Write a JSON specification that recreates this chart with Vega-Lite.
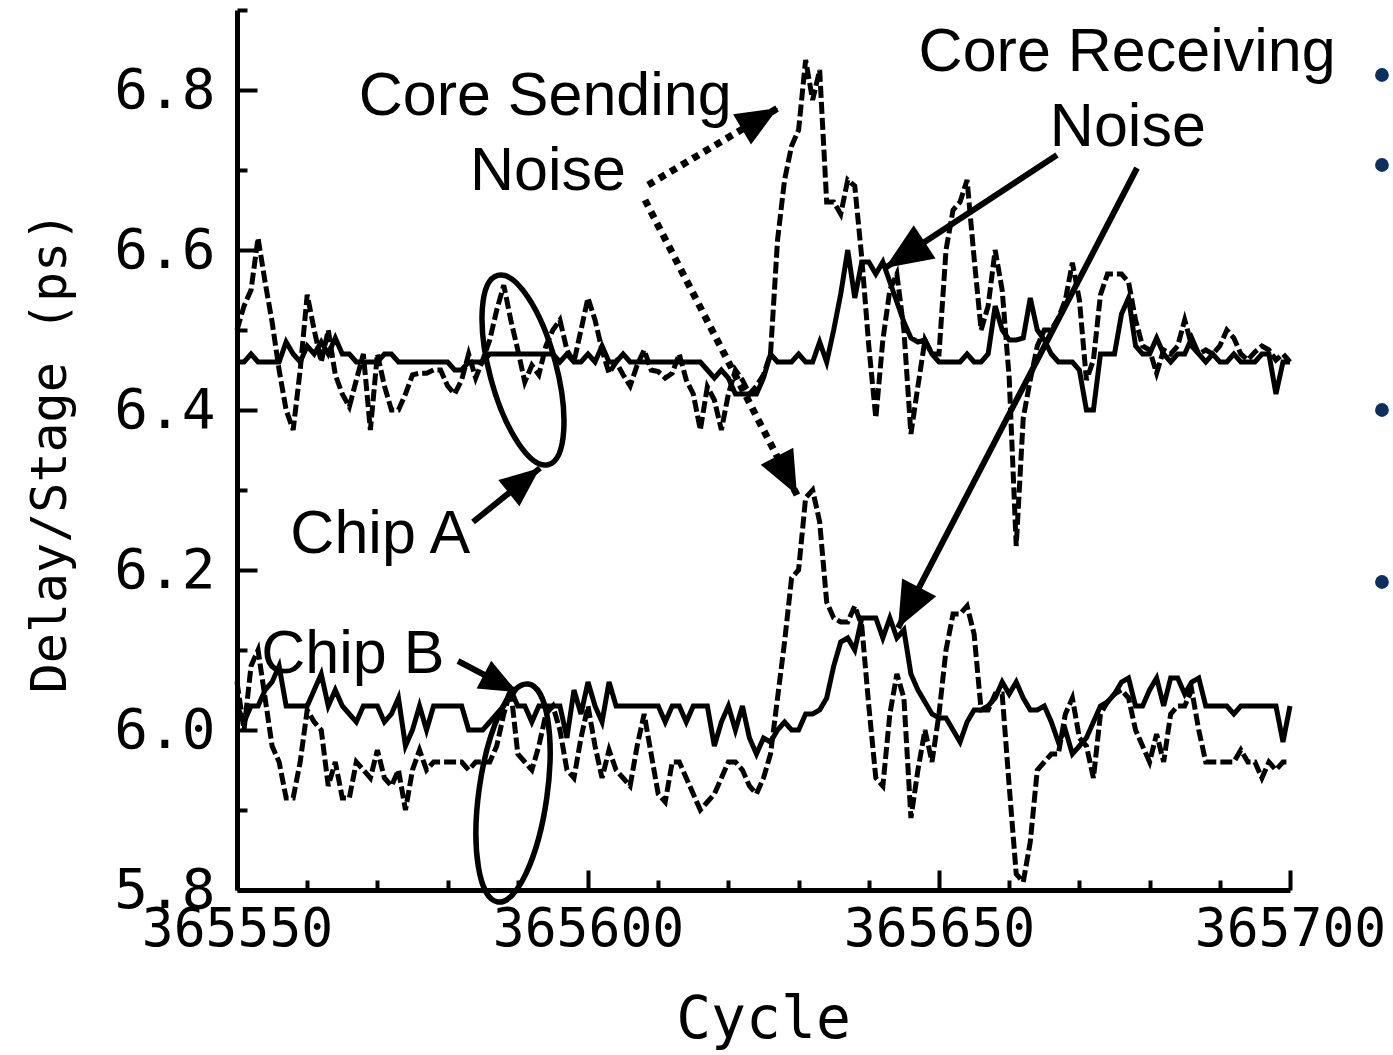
{
  "$schema": "https://vega.github.io/schema/vega-lite/v6.json",
  "width": 1053,
  "height": 880,
  "autosize": {"type": "none"},
  "padding": {"left": 237, "top": 10, "right": 103, "bottom": 165},
  "background": "white",
  "config": {"view": {"stroke": null}},
  "resolve": {"axis": {"x": "independent", "y": "independent"}},
  "datasets": {
    "trace": [
      {"c":365550,"sa":6.46,"da":6.50,"sb":6.03,"db":6.06},
      {"c":365551,"sa":6.46,"da":6.53,"sb":6.01,"db":6.00},
      {"c":365552,"sa":6.47,"da":6.55,"sb":6.03,"db":6.08},
      {"c":365553,"sa":6.46,"da":6.615,"sb":6.03,"db":6.10},
      {"c":365554,"sa":6.46,"da":6.56,"sb":6.05,"db":6.04},
      {"c":365555,"sa":6.46,"da":6.51,"sb":6.06,"db":5.98},
      {"c":365556,"sa":6.46,"da":6.45,"sb":6.08,"db":5.96},
      {"c":365557,"sa":6.485,"da":6.40,"sb":6.03,"db":5.915},
      {"c":365558,"sa":6.47,"da":6.375,"sb":6.03,"db":5.915},
      {"c":365559,"sa":6.46,"da":6.45,"sb":6.03,"db":5.96},
      {"c":365560,"sa":6.48,"da":6.544,"sb":6.03,"db":6.025},
      {"c":365561,"sa":6.47,"da":6.50,"sb":6.05,"db":6.01},
      {"c":365562,"sa":6.485,"da":6.46,"sb":6.07,"db":6.00},
      {"c":365563,"sa":6.47,"da":6.50,"sb":6.03,"db":5.93},
      {"c":365564,"sa":6.49,"da":6.444,"sb":6.05,"db":5.96},
      {"c":365565,"sa":6.47,"da":6.42,"sb":6.03,"db":5.915},
      {"c":365566,"sa":6.47,"da":6.404,"sb":6.02,"db":5.915},
      {"c":365567,"sa":6.46,"da":6.4375,"sb":6.01,"db":5.96},
      {"c":365568,"sa":6.46,"da":6.47,"sb":6.03,"db":5.95},
      {"c":365569,"sa":6.46,"da":6.375,"sb":6.03,"db":5.94},
      {"c":365570,"sa":6.46,"da":6.47,"sb":6.03,"db":5.975},
      {"c":365571,"sa":6.47,"da":6.43,"sb":6.01,"db":5.94},
      {"c":365572,"sa":6.47,"da":6.40,"sb":6.02,"db":5.93},
      {"c":365573,"sa":6.46,"da":6.40,"sb":6.04,"db":5.95},
      {"c":365574,"sa":6.46,"da":6.42,"sb":5.98,"db":5.90},
      {"c":365575,"sa":6.46,"da":6.444,"sb":6.00,"db":5.95},
      {"c":365576,"sa":6.46,"da":6.446,"sb":6.03,"db":5.975},
      {"c":365577,"sa":6.46,"da":6.446,"sb":6.00,"db":5.95},
      {"c":365578,"sa":6.46,"da":6.45,"sb":6.03,"db":5.96},
      {"c":365579,"sa":6.46,"da":6.45,"sb":6.03,"db":5.96},
      {"c":365580,"sa":6.46,"da":6.43,"sb":6.03,"db":5.96},
      {"c":365581,"sa":6.45,"da":6.42,"sb":6.03,"db":5.96},
      {"c":365582,"sa":6.45,"da":6.4375,"sb":6.03,"db":5.96},
      {"c":365583,"sa":6.46,"da":6.47,"sb":6.00,"db":5.95},
      {"c":365584,"sa":6.46,"da":6.44,"sb":6.00,"db":5.96},
      {"c":365585,"sa":6.46,"da":6.4625,"sb":6.00,"db":5.96},
      {"c":365586,"sa":6.47,"da":6.4875,"sb":6.01,"db":5.96},
      {"c":365587,"sa":6.47,"da":6.525,"sb":6.02,"db":5.98},
      {"c":365588,"sa":6.47,"da":6.556,"sb":6.03,"db":6.02},
      {"c":365589,"sa":6.47,"da":6.5125,"sb":6.05,"db":6.05},
      {"c":365590,"sa":6.47,"da":6.475,"sb":6.03,"db":5.97},
      {"c":365591,"sa":6.47,"da":6.435,"sb":6.03,"db":5.96},
      {"c":365592,"sa":6.47,"da":6.456,"sb":6.01,"db":5.95},
      {"c":365593,"sa":6.47,"da":6.444,"sb":6.03,"db":5.98},
      {"c":365594,"sa":6.47,"da":6.48,"sb":6.03,"db":6.02},
      {"c":365595,"sa":6.47,"da":6.50,"sb":6.03,"db":6.03},
      {"c":365596,"sa":6.46,"da":6.5125,"sb":6.03,"db":6.00},
      {"c":365597,"sa":6.47,"da":6.475,"sb":5.99,"db":5.95},
      {"c":365598,"sa":6.46,"da":6.46,"sb":6.05,"db":5.94},
      {"c":365599,"sa":6.46,"da":6.50,"sb":6.02,"db":5.99},
      {"c":365600,"sa":6.47,"da":6.54,"sb":6.06,"db":6.03},
      {"c":365601,"sa":6.46,"da":6.5125,"sb":6.03,"db":5.98},
      {"c":365602,"sa":6.48,"da":6.475,"sb":6.01,"db":5.94},
      {"c":365603,"sa":6.46,"da":6.446,"sb":6.06,"db":5.975},
      {"c":365604,"sa":6.46,"da":6.46,"sb":6.03,"db":5.95},
      {"c":365605,"sa":6.47,"da":6.444,"sb":6.03,"db":5.94},
      {"c":365606,"sa":6.46,"da":6.43,"sb":6.03,"db":5.93},
      {"c":365607,"sa":6.46,"da":6.456,"sb":6.03,"db":5.98},
      {"c":365608,"sa":6.46,"da":6.475,"sb":6.03,"db":6.02},
      {"c":365609,"sa":6.46,"da":6.45,"sb":6.03,"db":5.97},
      {"c":365610,"sa":6.46,"da":6.448,"sb":6.03,"db":5.92},
      {"c":365611,"sa":6.46,"da":6.44,"sb":6.01,"db":5.91},
      {"c":365612,"sa":6.46,"da":6.446,"sb":6.03,"db":5.96},
      {"c":365613,"sa":6.46,"da":6.47,"sb":6.03,"db":5.96},
      {"c":365614,"sa":6.46,"da":6.4375,"sb":6.01,"db":5.94},
      {"c":365615,"sa":6.46,"da":6.42,"sb":6.03,"db":5.92},
      {"c":365616,"sa":6.46,"da":6.375,"sb":6.03,"db":5.90},
      {"c":365617,"sa":6.45,"da":6.429,"sb":6.03,"db":5.91},
      {"c":365618,"sa":6.44,"da":6.4125,"sb":5.98,"db":5.92},
      {"c":365619,"sa":6.45,"da":6.375,"sb":6.01,"db":5.94},
      {"c":365620,"sa":6.44,"da":6.42,"sb":6.03,"db":5.96},
      {"c":365621,"sa":6.42,"da":6.45,"sb":6.00,"db":5.96},
      {"c":365622,"sa":6.42,"da":6.4375,"sb":6.03,"db":5.95},
      {"c":365623,"sa":6.42,"da":6.42,"sb":5.99,"db":5.93},
      {"c":365624,"sa":6.42,"da":6.43,"sb":5.97,"db":5.92},
      {"c":365625,"sa":6.44,"da":6.444,"sb":5.99,"db":5.94},
      {"c":365626,"sa":6.47,"da":6.47,"sb":5.985,"db":5.97},
      {"c":365627,"sa":6.46,"da":6.6125,"sb":6.00,"db":6.04},
      {"c":365628,"sa":6.46,"da":6.6875,"sb":6.01,"db":6.11},
      {"c":365629,"sa":6.46,"da":6.73,"sb":6.00,"db":6.19},
      {"c":365630,"sa":6.47,"da":6.75,"sb":6.00,"db":6.20},
      {"c":365631,"sa":6.46,"da":6.8375,"sb":6.02,"db":6.29},
      {"c":365632,"sa":6.46,"da":6.7875,"sb":6.02,"db":6.30},
      {"c":365633,"sa":6.485,"da":6.825,"sb":6.025,"db":6.26},
      {"c":365634,"sa":6.46,"da":6.66,"sb":6.04,"db":6.16},
      {"c":365635,"sa":6.50,"da":6.66,"sb":6.08,"db":6.14},
      {"c":365636,"sa":6.545,"da":6.645,"sb":6.11,"db":6.135},
      {"c":365637,"sa":6.60,"da":6.6875,"sb":6.115,"db":6.135},
      {"c":365638,"sa":6.54,"da":6.68,"sb":6.10,"db":6.155},
      {"c":365639,"sa":6.585,"da":6.59,"sb":6.14,"db":6.13},
      {"c":365640,"sa":6.585,"da":6.48,"sb":6.14,"db":6.03},
      {"c":365641,"sa":6.57,"da":6.39,"sb":6.14,"db":5.94},
      {"c":365642,"sa":6.585,"da":6.4875,"sb":6.115,"db":5.93},
      {"c":365643,"sa":6.56,"da":6.55,"sb":6.14,"db":6.02},
      {"c":365644,"sa":6.535,"da":6.57,"sb":6.115,"db":6.07},
      {"c":365645,"sa":6.51,"da":6.50,"sb":6.125,"db":6.04},
      {"c":365646,"sa":6.49,"da":6.37,"sb":6.07,"db":5.89},
      {"c":365647,"sa":6.485,"da":6.43,"sb":6.05,"db":5.95},
      {"c":365648,"sa":6.4875,"da":6.4875,"sb":6.035,"db":6.00},
      {"c":365649,"sa":6.47,"da":6.47,"sb":6.02,"db":5.96},
      {"c":365650,"sa":6.46,"da":6.47,"sb":6.015,"db":6.02},
      {"c":365651,"sa":6.46,"da":6.60,"sb":6.015,"db":6.10},
      {"c":365652,"sa":6.46,"da":6.65,"sb":6.00,"db":6.145},
      {"c":365653,"sa":6.46,"da":6.66,"sb":5.985,"db":6.145},
      {"c":365654,"sa":6.47,"da":6.6875,"sb":6.01,"db":6.155},
      {"c":365655,"sa":6.46,"da":6.59,"sb":6.025,"db":6.12},
      {"c":365656,"sa":6.46,"da":6.50,"sb":6.025,"db":6.025},
      {"c":365657,"sa":6.47,"da":6.53,"sb":6.03,"db":6.025},
      {"c":365658,"sa":6.53,"da":6.60,"sb":6.04,"db":6.045},
      {"c":365659,"sa":6.50,"da":6.55,"sb":6.06,"db":6.045},
      {"c":365660,"sa":6.4875,"da":6.44,"sb":6.045,"db":5.93},
      {"c":365661,"sa":6.4875,"da":6.23,"sb":6.06,"db":5.82},
      {"c":365662,"sa":6.49,"da":6.39,"sb":6.04,"db":5.81},
      {"c":365663,"sa":6.54,"da":6.4375,"sb":6.025,"db":5.86},
      {"c":365664,"sa":6.50,"da":6.48,"sb":6.025,"db":5.95},
      {"c":365665,"sa":6.4875,"da":6.50,"sb":6.03,"db":5.96},
      {"c":365666,"sa":6.47,"da":6.50,"sb":6.01,"db":5.97},
      {"c":365667,"sa":6.46,"da":6.515,"sb":5.985,"db":5.97},
      {"c":365668,"sa":6.46,"da":6.5375,"sb":6.00,"db":6.02},
      {"c":365669,"sa":6.46,"da":6.584,"sb":5.97,"db":6.04},
      {"c":365670,"sa":6.45,"da":6.5375,"sb":5.98,"db":5.99},
      {"c":365671,"sa":6.40,"da":6.4375,"sb":5.99,"db":5.98},
      {"c":365672,"sa":6.40,"da":6.4625,"sb":6.01,"db":5.94},
      {"c":365673,"sa":6.47,"da":6.544,"sb":6.03,"db":6.02},
      {"c":365674,"sa":6.47,"da":6.57,"sb":6.035,"db":6.035},
      {"c":365675,"sa":6.47,"da":6.57,"sb":6.045,"db":6.045},
      {"c":365676,"sa":6.52,"da":6.57,"sb":6.06,"db":6.05},
      {"c":365677,"sa":6.54,"da":6.56,"sb":6.065,"db":6.04},
      {"c":365678,"sa":6.48,"da":6.5125,"sb":6.03,"db":6.00},
      {"c":365679,"sa":6.47,"da":6.48,"sb":6.03,"db":5.98},
      {"c":365680,"sa":6.47,"da":6.475,"sb":6.05,"db":5.96},
      {"c":365681,"sa":6.49,"da":6.446,"sb":6.065,"db":5.995},
      {"c":365682,"sa":6.47,"da":6.475,"sb":6.03,"db":5.96},
      {"c":365683,"sa":6.46,"da":6.47,"sb":6.065,"db":6.02},
      {"c":365684,"sa":6.47,"da":6.48,"sb":6.065,"db":6.03},
      {"c":365685,"sa":6.47,"da":6.5125,"sb":6.045,"db":6.03},
      {"c":365686,"sa":6.49,"da":6.48,"sb":6.06,"db":6.05},
      {"c":365687,"sa":6.47,"da":6.47,"sb":6.065,"db":6.00},
      {"c":365688,"sa":6.46,"da":6.475,"sb":6.03,"db":5.96},
      {"c":365689,"sa":6.47,"da":6.47,"sb":6.03,"db":5.96},
      {"c":365690,"sa":6.46,"da":6.48,"sb":6.03,"db":5.96},
      {"c":365691,"sa":6.46,"da":6.50,"sb":6.03,"db":5.96},
      {"c":365692,"sa":6.47,"da":6.49,"sb":6.02,"db":5.96},
      {"c":365693,"sa":6.46,"da":6.47,"sb":6.03,"db":5.975},
      {"c":365694,"sa":6.46,"da":6.4625,"sb":6.03,"db":5.96},
      {"c":365695,"sa":6.46,"da":6.4725,"sb":6.03,"db":5.96},
      {"c":365696,"sa":6.47,"da":6.48,"sb":6.03,"db":5.94},
      {"c":365697,"sa":6.47,"da":6.475,"sb":6.03,"db":5.96},
      {"c":365698,"sa":6.42,"da":6.4625,"sb":6.03,"db":5.95},
      {"c":365699,"sa":6.46,"da":6.47,"sb":5.985,"db":5.96},
      {"c":365700,"sa":6.46,"da":6.46,"sb":6.03,"db":5.96}
    ],
    "notes": [
      {"label": "Core Sending", "c": 365593.9, "v": 6.791},
      {"label": "Noise", "c": 365594.3, "v": 6.6975},
      {"label": "Core Receiving", "c": 365676.8, "v": 6.846},
      {"label": "Noise", "c": 365676.9, "v": 6.7525},
      {"label": "Chip A", "c": 365570.4, "v": 6.244},
      {"label": "Chip B", "c": 365566.5, "v": 6.094}
    ],
    "dottedArrows": [
      {"c": 365608.55, "v": 6.68125, "c2": 365627.07, "v2": 6.7775},
      {"c": 365608.12, "v": 6.6625, "c2": 365629.77, "v2": 6.29375}
    ],
    "solidArrows": [
      {"c": 365666.81, "v": 6.71875, "c2": 365642.31, "v2": 6.5775},
      {"c": 365678.21, "v": 6.7025, "c2": 365644.16, "v2": 6.1275},
      {"c": 365583.62, "v": 6.26, "c2": 365593.16, "v2": 6.3275},
      {"c": 365581.48, "v": 6.08625, "c2": 365589.89, "v2": 6.0475}
    ],
    "bullets": [
      {"c": 365713.1, "v": 6.81875},
      {"c": 365713.1, "v": 6.70625},
      {"c": 365713.1, "v": 6.4},
      {"c": 365713.1, "v": 6.185}
    ]
  },
  "layer": [
    {
      "data": {"name": "trace"},
      "mark": {"type": "line", "color": "black", "strokeWidth": 5},
      "encoding": {
        "x": {"field": "c", "type": "quantitative",
          "scale": {"domain": [365550, 365700], "nice": false, "zero": false},
          "axis": {"orient": "bottom", "values": [365550, 365600, 365650, 365700], "format": "d",
            "tickSize": -20, "tickWidth": 4, "tickColor": "black",
            "domainWidth": 5, "domainColor": "black", "grid": false,
            "labelFont": "DejaVu Sans Mono", "labelFontSize": 53, "labelColor": "black",
            "labelPadding": 33, "labelFlush": false, "labelOverlap": false, "labelLimit": 0,
            "title": "Cycle", "titleFont": "DejaVu Sans Mono", "titleFontSize": 58,
            "titleFontWeight": "normal", "titleColor": "black",
            "titleX": 526, "titleY": 130, "titleAlign": "center", "titleBaseline": "middle"}},
        "y": {"field": "sa", "type": "quantitative",
          "scale": {"domain": [5.8, 6.9], "nice": false, "zero": false},
          "axis": {"orient": "left", "values": [5.8, 6.0, 6.2, 6.4, 6.6, 6.8], "format": ".1f",
            "tickSize": -20, "tickWidth": 4, "tickColor": "black",
            "domainWidth": 5, "domainColor": "black", "grid": false,
            "labelFont": "DejaVu Sans Mono", "labelFontSize": 56, "labelColor": "black",
            "labelPadding": 42, "labelFlush": false, "labelOverlap": false, "labelLimit": 0,
            "title": "Delay/Stage (ps)", "titleFont": "DejaVu Sans Mono", "titleFontSize": 50,
            "titleFontWeight": "normal", "titleColor": "black",
            "titleX": -187, "titleY": 442, "titleAngle": 270, "titleAlign": "center", "titleBaseline": "middle"}}
      }
    },
    {
      "data": {"name": "trace"},
      "mark": {"type": "line", "color": "black", "strokeWidth": 5, "strokeDash": [12, 4]},
      "encoding": {
        "x": {"field": "c", "type": "quantitative",
          "scale": {"domain": [365550, 365700], "nice": false, "zero": false},
          "axis": {"orient": "bottom", "values": [365560, 365570, 365580, 365590, 365610, 365620, 365630, 365640, 365660, 365670, 365680, 365690],
            "tickSize": -10, "tickWidth": 4, "tickColor": "black",
            "domain": false, "labels": false, "grid": false, "title": null}},
        "y": {"field": "da", "type": "quantitative",
          "scale": {"domain": [5.8, 6.9], "nice": false, "zero": false},
          "axis": {"orient": "left", "values": [5.9, 6.1, 6.3, 6.5, 6.7, 6.9],
            "tickSize": -10, "tickWidth": 4, "tickColor": "black",
            "domain": false, "labels": false, "grid": false, "title": null}}
      }
    },
    {
      "data": {"name": "trace"},
      "mark": {"type": "line", "color": "black", "strokeWidth": 5},
      "encoding": {
        "x": {"field": "c", "type": "quantitative", "scale": {"domain": [365550, 365700], "nice": false, "zero": false}, "axis": null},
        "y": {"field": "sb", "type": "quantitative", "scale": {"domain": [5.8, 6.9], "nice": false, "zero": false}, "axis": null}
      }
    },
    {
      "data": {"name": "trace"},
      "mark": {"type": "line", "color": "black", "strokeWidth": 5, "strokeDash": [12, 4]},
      "encoding": {
        "x": {"field": "c", "type": "quantitative", "scale": {"domain": [365550, 365700], "nice": false, "zero": false}, "axis": null},
        "y": {"field": "db", "type": "quantitative", "scale": {"domain": [5.8, 6.9], "nice": false, "zero": false}, "axis": null}
      }
    },
    {
      "data": {"values": [{"c": 365590.74, "v": 6.45}]},
      "mark": {"type": "point", "shape": "M0,-1C0.188,-1,0.34,-0.552,0.34,0C0.34,0.552,0.188,1,0,1C-0.188,1,-0.34,0.552,-0.34,0C-0.34,-0.552,-0.188,-1,0,-1Z",
        "size": 38400, "angle": -15, "filled": false, "stroke": "black", "strokeWidth": 5.5, "opacity": 1},
      "encoding": {
        "x": {"field": "c", "type": "quantitative", "scale": {"domain": [365550, 365700], "nice": false, "zero": false}, "axis": null},
        "y": {"field": "v", "type": "quantitative", "scale": {"domain": [5.8, 6.9], "nice": false, "zero": false}, "axis": null}
      }
    },
    {
      "data": {"values": [{"c": 365589.32, "v": 5.92125}]},
      "mark": {"type": "point", "shape": "M0,-1C0.171,-1,0.31,-0.552,0.31,0C0.31,0.552,0.171,1,0,1C-0.171,1,-0.31,0.552,-0.31,0C-0.31,-0.552,-0.171,-1,0,-1Z",
        "size": 48400, "angle": 8, "filled": false, "stroke": "black", "strokeWidth": 5.5, "opacity": 1},
      "encoding": {
        "x": {"field": "c", "type": "quantitative", "scale": {"domain": [365550, 365700], "nice": false, "zero": false}, "axis": null},
        "y": {"field": "v", "type": "quantitative", "scale": {"domain": [5.8, 6.9], "nice": false, "zero": false}, "axis": null}
      }
    },
    {
      "data": {"name": "dottedArrows"},
      "mark": {"type": "rule", "color": "black", "strokeWidth": 7, "strokeDash": [7, 6]},
      "encoding": {
        "x": {"field": "c", "type": "quantitative", "scale": {"domain": [365550, 365700], "nice": false, "zero": false}, "axis": null},
        "y": {"field": "v", "type": "quantitative", "scale": {"domain": [5.8, 6.9], "nice": false, "zero": false}, "axis": null},
        "x2": {"field": "c2"},
        "y2": {"field": "v2"}
      }
    },
    {
      "data": {"name": "solidArrows"},
      "mark": {"type": "rule", "color": "black", "strokeWidth": 6},
      "encoding": {
        "x": {"field": "c", "type": "quantitative", "scale": {"domain": [365550, 365700], "nice": false, "zero": false}, "axis": null},
        "y": {"field": "v", "type": "quantitative", "scale": {"domain": [5.8, 6.9], "nice": false, "zero": false}, "axis": null},
        "x2": {"field": "c2"},
        "y2": {"field": "v2"}
      }
    },
    {
      "data": {"values": [{"c": 365627.07, "v": 6.7775}]},
      "mark": {"type": "point", "shape": "M0,0L-1,-0.42L-1,0.42Z", "size": 7000, "angle": -30.6, "filled": true, "color": "black", "opacity": 1, "strokeWidth": 0},
      "encoding": {
        "x": {"field": "c", "type": "quantitative", "scale": {"domain": [365550, 365700], "nice": false, "zero": false}, "axis": null},
        "y": {"field": "v", "type": "quantitative", "scale": {"domain": [5.8, 6.9], "nice": false, "zero": false}, "axis": null}
      }
    },
    {
      "data": {"values": [{"c": 365629.77, "v": 6.29375}]},
      "mark": {"type": "point", "shape": "M0,0L-1,-0.42L-1,0.42Z", "size": 7600, "angle": 62.7, "filled": true, "color": "black", "opacity": 1, "strokeWidth": 0},
      "encoding": {
        "x": {"field": "c", "type": "quantitative", "scale": {"domain": [365550, 365700], "nice": false, "zero": false}, "axis": null},
        "y": {"field": "v", "type": "quantitative", "scale": {"domain": [5.8, 6.9], "nice": false, "zero": false}, "axis": null}
      }
    },
    {
      "data": {"values": [{"c": 365642.31, "v": 6.5775}]},
      "mark": {"type": "point", "shape": "M0,0L-1,-0.42L-1,0.42Z", "size": 9000, "angle": 146.7, "filled": true, "color": "black", "opacity": 1, "strokeWidth": 0},
      "encoding": {
        "x": {"field": "c", "type": "quantitative", "scale": {"domain": [365550, 365700], "nice": false, "zero": false}, "axis": null},
        "y": {"field": "v", "type": "quantitative", "scale": {"domain": [5.8, 6.9], "nice": false, "zero": false}, "axis": null}
      }
    },
    {
      "data": {"values": [{"c": 365644.16, "v": 6.1275}]},
      "mark": {"type": "point", "shape": "M0,0L-1,-0.42L-1,0.42Z", "size": 8400, "angle": 117.5, "filled": true, "color": "black", "opacity": 1, "strokeWidth": 0},
      "encoding": {
        "x": {"field": "c", "type": "quantitative", "scale": {"domain": [365550, 365700], "nice": false, "zero": false}, "axis": null},
        "y": {"field": "v", "type": "quantitative", "scale": {"domain": [5.8, 6.9], "nice": false, "zero": false}, "axis": null}
      }
    },
    {
      "data": {"values": [{"c": 365593.16, "v": 6.3275}]},
      "mark": {"type": "point", "shape": "M0,0L-1,-0.42L-1,0.42Z", "size": 6400, "angle": -38.9, "filled": true, "color": "black", "opacity": 1, "strokeWidth": 0},
      "encoding": {
        "x": {"field": "c", "type": "quantitative", "scale": {"domain": [365550, 365700], "nice": false, "zero": false}, "axis": null},
        "y": {"field": "v", "type": "quantitative", "scale": {"domain": [5.8, 6.9], "nice": false, "zero": false}, "axis": null}
      }
    },
    {
      "data": {"values": [{"c": 365589.89, "v": 6.0475}]},
      "mark": {"type": "point", "shape": "M0,0L-1,-0.42L-1,0.42Z", "size": 5600, "angle": 27.7, "filled": true, "color": "black", "opacity": 1, "strokeWidth": 0},
      "encoding": {
        "x": {"field": "c", "type": "quantitative", "scale": {"domain": [365550, 365700], "nice": false, "zero": false}, "axis": null},
        "y": {"field": "v", "type": "quantitative", "scale": {"domain": [5.8, 6.9], "nice": false, "zero": false}, "axis": null}
      }
    },
    {
      "data": {"name": "notes"},
      "mark": {"type": "text", "font": "Liberation Sans", "fontSize": 61, "align": "center", "baseline": "middle", "color": "black"},
      "encoding": {
        "x": {"field": "c", "type": "quantitative", "scale": {"domain": [365550, 365700], "nice": false, "zero": false}, "axis": null},
        "y": {"field": "v", "type": "quantitative", "scale": {"domain": [5.8, 6.9], "nice": false, "zero": false}, "axis": null},
        "text": {"field": "label"}
      }
    },
    {
      "data": {"name": "bullets"},
      "mark": {"type": "point", "shape": "circle", "filled": true, "color": "#0b2f5e", "size": 190, "opacity": 1},
      "encoding": {
        "x": {"field": "c", "type": "quantitative", "scale": {"domain": [365550, 365700], "nice": false, "zero": false}, "axis": null},
        "y": {"field": "v", "type": "quantitative", "scale": {"domain": [5.8, 6.9], "nice": false, "zero": false}, "axis": null}
      }
    }
  ]
}
